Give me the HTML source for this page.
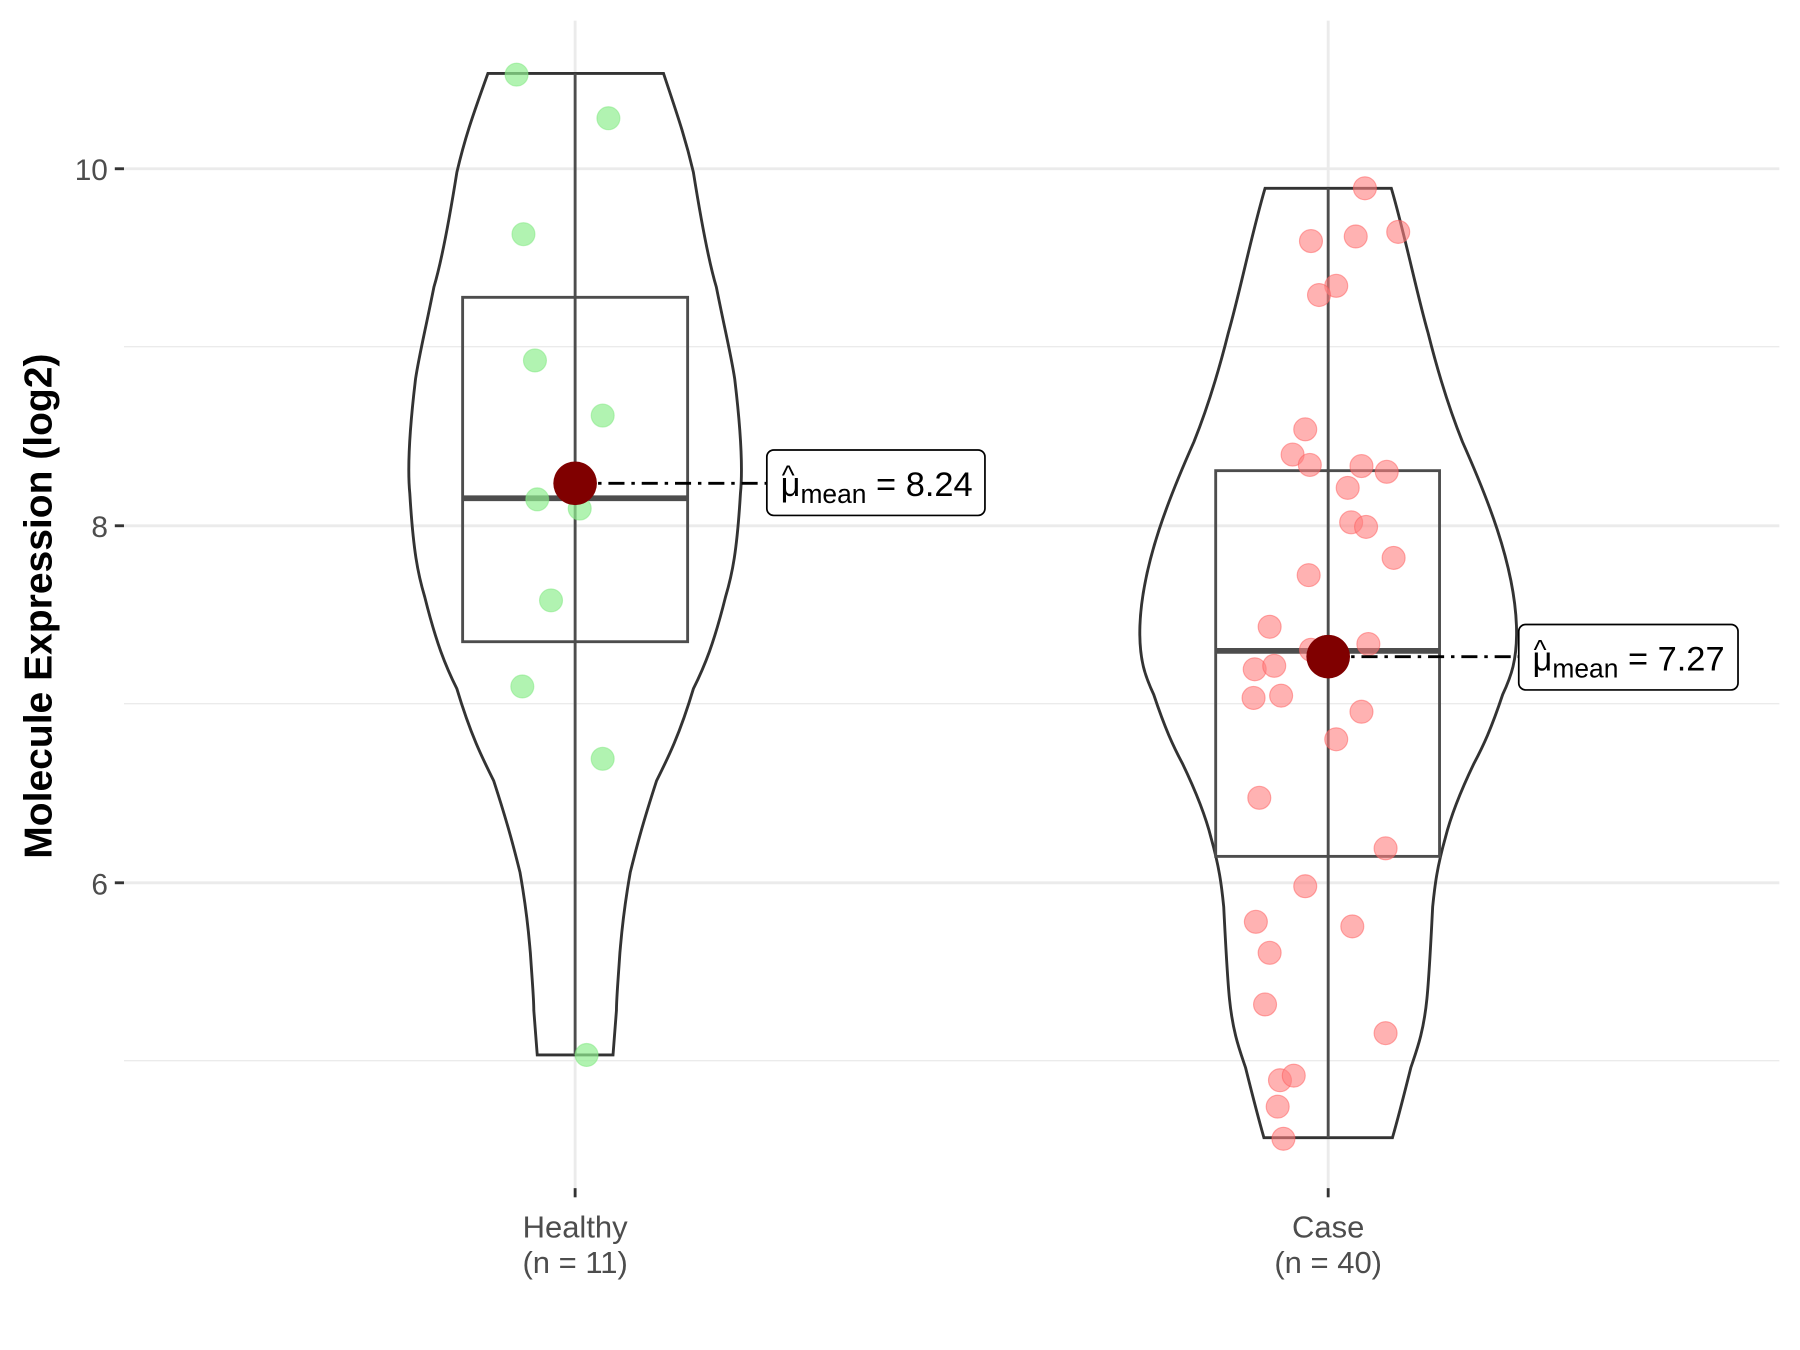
<!DOCTYPE html>
<html><head><style>html,body{margin:0;padding:0;background:#fff}svg{display:block}</style></head>
<body>
<svg width="1800" height="1350" viewBox="0 0 1568 1176" preserveAspectRatio="none" xmlns="http://www.w3.org/2000/svg" font-family="Liberation Sans, sans-serif">
<rect width="1568" height="1176" fill="#fff"/>
<g stroke="#ebebeb">
<line x1="108" x2="1550" y1="302" y2="302" stroke-width="1.2"/>
<line x1="108" x2="1550" y1="613" y2="613" stroke-width="1.2"/>
<line x1="108" x2="1550" y1="924" y2="924" stroke-width="1.2"/>
<line x1="108" x2="1550" y1="147" y2="147" stroke-width="2.5"/>
<line x1="108" x2="1550" y1="458" y2="458" stroke-width="2.5"/>
<line x1="108" x2="1550" y1="769" y2="769" stroke-width="2.5"/>
<line x1="501" x2="501" y1="18" y2="1035" stroke-width="2.5"/>
<line x1="1157" x2="1157" y1="18" y2="1035" stroke-width="2.5"/>
</g>
<path d="M425,64 C412,100 405,120 398,150 C390,200 384,230 378,250 C370,290 365,310 362,330 C356,380 355,410 357,430 C360,480 364,500 370,520 C380,560 388,580 398,600 C410,640 420,660 430,680 C443,720 448,740 453,760 C460,800 461,820 462,830 C464,860 465,870 465,880 L468,919 L534,919 L537,880 C537,870 538,860 540,830 C541,820 542,800 549,760 C554,740 559,720 572,680 C582,660 592,640 604,600 C614,580 622,560 632,520 C638,500 642,480 645,430 C647,410 646,380 640,330 C637,310 632,290 624,250 C618,230 612,200 604,150 C597,120 590,100 578,64 Z" fill="none" stroke="#333" stroke-width="2.5"/>
<path d="M1102,164 C1090,205 1080,255 1070,290 C1060,330 1050,360 1040,385 C1020,430 995,490 993,545 C992,575 998,590 1005,605 C1015,635 1022,650 1030,665 C1042,690 1050,710 1055,730 C1062,755 1064,770 1066,790 C1068,830 1069,850 1071,870 C1074,900 1080,915 1085,930 C1090,950 1095,970 1101,991 L1213,991 C1219,970 1224,950 1229,930 C1234,915 1240,900 1243,870 C1245,850 1246,830 1248,790 C1250,770 1252,755 1259,730 C1264,710 1272,690 1284,665 C1292,650 1299,635 1309,605 C1316,590 1322,575 1321,545 C1319,490 1294,430 1274,385 C1264,360 1254,330 1244,290 C1234,255 1224,205 1212,164 Z" fill="none" stroke="#333" stroke-width="2.5"/>
<g stroke="#4d4d4d" fill="none" stroke-width="2.5">
<line x1="501" x2="501" y1="64" y2="919"/>
<line x1="1157" x2="1157" y1="164" y2="991"/>
<rect x="403" y="259" width="196" height="300"/>
<rect x="1059" y="410" width="195" height="336"/>
<line x1="403" x2="599" y1="434" y2="434" stroke-width="5"/>
<line x1="1059" x2="1254" y1="567" y2="567" stroke-width="5"/>
</g>
<g fill="#90ee90" fill-opacity="0.7" stroke="#7de87d" stroke-opacity="0.5">
<circle cx="450" cy="65" r="10"/><circle cx="530" cy="103" r="10"/><circle cx="456" cy="204" r="10"/><circle cx="466" cy="314" r="10"/><circle cx="525" cy="362" r="10"/><circle cx="468" cy="435" r="10"/><circle cx="505" cy="443" r="10"/><circle cx="480" cy="523" r="10"/><circle cx="455" cy="598" r="10"/><circle cx="525" cy="661" r="10"/><circle cx="511" cy="919" r="10"/>
</g>
<g fill="#ff7f7f" fill-opacity="0.6" stroke="#ff5a5a" stroke-opacity="0.5">
<circle cx="1189" cy="164" r="10"/><circle cx="1142" cy="210" r="10"/><circle cx="1181" cy="206" r="10"/><circle cx="1218" cy="202" r="10"/><circle cx="1164" cy="249" r="10"/><circle cx="1149" cy="257" r="10"/><circle cx="1137" cy="374" r="10"/><circle cx="1126" cy="396" r="10"/><circle cx="1141" cy="405" r="10"/><circle cx="1186" cy="406" r="10"/><circle cx="1208" cy="411" r="10"/><circle cx="1174" cy="425" r="10"/><circle cx="1177" cy="455" r="10"/><circle cx="1190" cy="459" r="10"/><circle cx="1214" cy="486" r="10"/><circle cx="1140" cy="501" r="10"/><circle cx="1106" cy="546" r="10"/><circle cx="1142" cy="566" r="10"/><circle cx="1192" cy="561" r="10"/><circle cx="1093" cy="583" r="10"/><circle cx="1110" cy="580" r="10"/><circle cx="1092" cy="608" r="10"/><circle cx="1116" cy="606" r="10"/><circle cx="1186" cy="620" r="10"/><circle cx="1164" cy="644" r="10"/><circle cx="1097" cy="695" r="10"/><circle cx="1207" cy="739" r="10"/><circle cx="1137" cy="772" r="10"/><circle cx="1094" cy="803" r="10"/><circle cx="1178" cy="807" r="10"/><circle cx="1106" cy="830" r="10"/><circle cx="1102" cy="875" r="10"/><circle cx="1207" cy="900" r="10"/><circle cx="1115" cy="941" r="10"/><circle cx="1127" cy="937" r="10"/><circle cx="1113" cy="964" r="10"/><circle cx="1118" cy="992" r="10"/>
</g>
<g stroke="#000" stroke-width="2.5" stroke-dasharray="14,6,3,6">
<line x1="501" x2="668" y1="421" y2="421"/>
<line x1="1157" x2="1323" y1="572" y2="572"/>
</g>
<circle cx="501" cy="421" r="19" fill="#800000"/>
<circle cx="1157" cy="572" r="19" fill="#800000"/>
<g fill="#fff" stroke="#000" stroke-width="1.5">
<rect x="668" y="392" width="190" height="57" rx="6"/>
<rect x="1323" y="544" width="191" height="57" rx="6"/>
</g>
<g font-size="30" fill="#000">
<text x="680" y="432">μ<tspan font-size="23" dy="6">mean</tspan><tspan dy="-6"> = 8.24</tspan></text>
<text x="681" y="422" font-size="24">^</text>
<text x="1335" y="584">μ<tspan font-size="23" dy="6">mean</tspan><tspan dy="-6"> = 7.27</tspan></text>
<text x="1336" y="574" font-size="24">^</text>
</g>
<g stroke="#333" stroke-width="2.5">
<line x1="100" x2="108" y1="147" y2="147"/><line x1="100" x2="108" y1="458" y2="458"/><line x1="100" x2="108" y1="769" y2="769"/>
<line x1="501" x2="501" y1="1035" y2="1043"/><line x1="1157" x2="1157" y1="1035" y2="1043"/>
</g>
<g font-size="26" fill="#4d4d4d" text-anchor="end">
<text x="94" y="157">10</text><text x="94" y="468">8</text><text x="94" y="779">6</text>
</g>
<g font-size="27" fill="#4d4d4d" text-anchor="middle">
<text x="501" y="1078">Healthy</text><text x="501" y="1109">(n = 11)</text>
<text x="1157" y="1078">Case</text><text x="1157" y="1109">(n = 40)</text>
</g>
<text transform="translate(45,528) rotate(-90)" text-anchor="middle" font-size="34" font-weight="bold" fill="#000">Molecule Expression (log2)</text>
</svg>
</body></html>
